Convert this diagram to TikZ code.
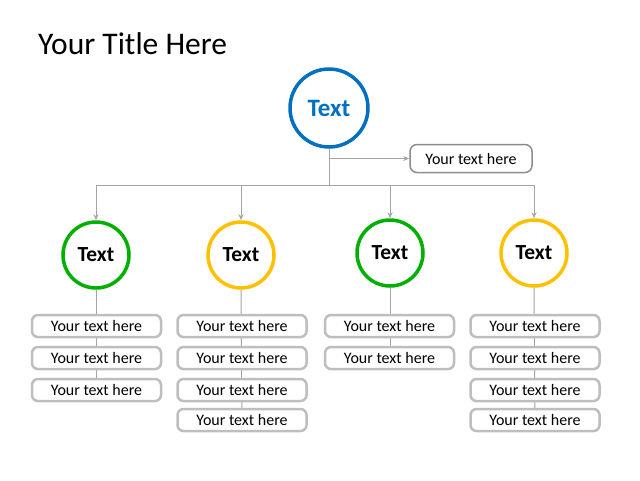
\documentclass[tikz,border=0pt]{standalone}
\usepackage{fontspec}
\setmainfont{Carlito}
\usetikzlibrary{arrows.meta}
\definecolor{cblue}{RGB}{0,112,192}
\definecolor{cgreen}{RGB}{0,176,0}
\definecolor{cyellow}{RGB}{255,192,0}
\definecolor{lgray}{RGB}{190,190,190}
\definecolor{dgray}{RGB}{140,140,140}
\definecolor{conn}{RGB}{165,165,165}
\tikzset{
  circ/.style={circle,line width=3.5pt,fill=white,minimum size=#1,inner sep=0pt,font=\bfseries\fontsize{21.5}{24}\selectfont},
  itembox/.style={draw=lgray,line width=2.5pt,rounded corners=6pt,fill=white,minimum width=129pt,minimum height=22pt,inner sep=0pt,font=\fontsize{16}{18}\selectfont},
  sidebox/.style={draw=dgray,line width=1.5pt,rounded corners=7pt,fill=white,minimum width=122pt,minimum height=28pt,inner sep=0pt,font=\fontsize{16}{18}\selectfont},
  link/.style={draw=conn,line width=1pt},
  arr/.style={link,-{Stealth[length=6pt,width=5pt]}}
}
\begin{document}
\begin{tikzpicture}[x=1pt,y=-1pt]
\useasboundingbox[fill=white] (0,0) rectangle (640,480);
\node[anchor=west,inner sep=0pt,font=\fontsize{31.5}{34}\selectfont] (title) at (38,44) {Your Title Here};
% top
\node[circ=78pt,draw=cblue,text=cblue,font=\bfseries\fontsize{25}{28}\selectfont] (top) at (329,108) {Text};
\node[sidebox] (side) at (471,158.5) {Your text here};
\coordinate (j) at (329,185);
\coordinate (js) at (329,158.5);
\coordinate (h1) at (96,185);
\coordinate (h2) at (241,185);
\coordinate (h3) at (390,185);
\coordinate (h4) at (534,185);
% circles
\node[circ=66pt,draw=cgreen] (c1) at (96,255) {Text};
\node[circ=66pt,draw=cyellow] (c2) at (241,255) {Text};
\node[circ=66pt,draw=cgreen] (c3) at (390,253) {Text};
\node[circ=66pt,draw=cyellow] (c4) at (534,253) {Text};
% connectors
\draw[link] (top.south) -- (j);
\draw[arr] (js) -- (side.west);
\draw[link] (h1) -- (h4);
\draw[arr] (h1) -- (c1.north);
\draw[arr] (h2) -- (c2.north);
\draw[arr] (h3) -- (c3.north);
\draw[arr] (h4) -- (c4.north);
% column links (behind boxes)
\draw[link] (c1.south) -- (96,390);
\draw[link] (c2.south) -- (242,420);
\draw[link] (c3.south) -- (390,358);
\draw[link] (c4.south) -- (535,420);
% boxes
\foreach \y/\n in {326/1,358/2,390/3}
  \node[itembox] (b1\n) at (96.5,\y) {Your text here};
\foreach \y/\n in {326/1,358/2,390/3,420/4}
  \node[itembox] (b2\n) at (242,\y) {Your text here};
\foreach \y/\n in {326/1,358/2}
  \node[itembox] (b3\n) at (389.5,\y) {Your text here};
\foreach \y/\n in {326/1,358/2,390/3,420/4}
  \node[itembox] (b4\n) at (535,\y) {Your text here};
\end{tikzpicture}
\end{document}
